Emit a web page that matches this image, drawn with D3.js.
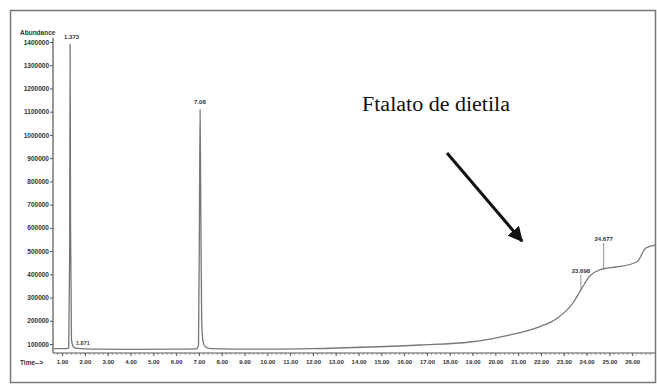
<!DOCTYPE html>
<html>
<head>
<meta charset="utf-8">
<script src="https://cdn.jsdelivr.net/npm/d3@7"></script>
<style>
  html, body { margin: 0; padding: 0; background: #fff; }
  svg { display: block; }
</style>
</head>
<body>
<svg id="chart" width="657" height="385"></svg>
<script>
// Total ion chromatogram: retention time (min) vs abundance
const times = [0.62, 1.20, 1.29, 1.33, 1.35, 1.37, 1.41, 1.48, 1.60, 1.85, 2.5, 4.0, 6.0,
  6.90, 6.98, 7.02, 7.05, 7.08, 7.12, 7.18, 7.28, 7.5, 8.5, 10.0, 12.0, 14.5, 16.7, 18.9,
  20.6, 21.9, 22.7, 23.4, 23.7, 23.8, 24.1, 24.55, 24.8, 25.3, 26.2, 26.6, 27.0];
const abundance = [80000, 80000, 84000, 500000, 1390000, 600000, 120000, 90000, 82000, 80000,
  78000, 77000, 78000, 79000, 95000, 600000, 1108000, 700000, 200000, 110000, 88000, 80000,
  78000, 78000, 80000, 87000, 95700, 108600, 138700, 173000, 210000, 276500, 325000, 341000,
  388000, 418600, 425000, 431500, 453000, 513000, 526000];

const yTicks = [100000, 200000, 300000, 400000, 500000, 600000, 700000, 800000, 900000,
  1000000, 1100000, 1200000, 1300000, 1400000];
const xTicks = d3.range(1, 27);   // 1.00 … 26.00 min

// Labelled peaks: retention time, abundance at the peak and its annotation
const peakTimes = [1.35, 7.05, 23.75, 24.75];
const peakValues = [1390000, 1108000, 330000, 423000];
const peakLabels = ["1.373", "7.08", "23.698", "24.677"];
const peakLift = [4, 4, 16, 26];

const svg = d3.select("#chart");
const sans = "Liberation Sans, Arial, sans-serif";

// outer frame
svg.append("rect").attr("x", 10.5).attr("y", 10.5).attr("width", 645).attr("height", 372)
  .attr("fill", "none").attr("stroke", "#777").attr("stroke-width", 1.5);

const x = d3.scaleLinear().domain([0.6, 27.0]).range([53, 655]);
const y = d3.scaleLinear().domain([100000, 1400000]).range([344, 42]);
const yBottom = 353;

// y axis
const yAxis = d3.axisLeft(y).tickValues(yTicks).tickSize(3).tickFormat(d3.format("d"));
const gy = svg.append("g").attr("transform", "translate(53,0)").call(yAxis);
gy.select(".domain").remove();
gy.append("line").attr("x1", 0).attr("x2", 0).attr("y1", 38).attr("y2", yBottom)
  .attr("stroke", "#555").attr("stroke-width", 1.2);
gy.selectAll(".tick line").attr("stroke", "#555");
gy.selectAll(".tick text").attr("fill", "#333").attr("font-size", 6.5)
  .attr("font-family", sans).attr("font-weight", "bold").attr("x", -4);

// x axis: major ticks every minute, minor ticks every 0.2 min
const xAxis = d3.axisBottom(x).tickValues(xTicks).tickSize(3).tickFormat(d3.format(".2f"));
const gx = svg.append("g").attr("transform", `translate(0,${yBottom})`).call(xAxis);
gx.select(".domain").remove();
gx.append("line").attr("x1", 53).attr("x2", 655).attr("y1", 0).attr("y2", 0)
  .attr("stroke", "#555").attr("stroke-width", 1.2);
const minor = d3.range(0.8, 27.0, 0.2);
gx.selectAll(".minor").data(minor).join("line").attr("class", "minor")
  .attr("x1", d => x(d)).attr("x2", d => x(d)).attr("y1", 0).attr("y2", 2)
  .attr("stroke", "#777").attr("stroke-width", 0.7);
gx.selectAll(".tick line").attr("stroke", "#555");
gx.selectAll(".tick text").attr("fill", "#333").attr("font-size", 6)
  .attr("font-family", sans).attr("font-weight", "bold").attr("dy", "0.9em");

svg.append("text").attr("x", 20).attr("y", 35).text("Abundance")
  .attr("font-size", 6.5).attr("font-weight", "bold").attr("fill", "#333")
  .attr("font-family", sans);
svg.append("text").attr("x", 20).attr("y", 365).text("Time-->")
  .attr("font-size", 6.5).attr("font-weight", "bold").attr("fill", "#333")
  .attr("font-family", sans);

// chromatogram trace
const line = d3.line().x(d => x(d[0])).y(d => y(d[1])).curve(d3.curveMonotoneX);
svg.append("path").datum(times.map((t, i) => [t, abundance[i]]))
  .attr("d", line).attr("fill", "none").attr("stroke", "#777").attr("stroke-width", 1.3);

// peak annotations
const pk = svg.append("g");
peakTimes.forEach((t, i) => {
  const px = x(t), py = y(peakValues[i]);
  if (peakLift[i] > 6) {
    pk.append("line").attr("x1", px).attr("x2", px).attr("y1", py).attr("y2", py - peakLift[i])
      .attr("stroke", "#777").attr("stroke-width", 0.8);
  }
  pk.append("text").attr("x", px).attr("y", py - peakLift[i] - 1.5)
    .attr("text-anchor", i < 2 ? "start" : "middle")
    .attr("dx", i < 2 ? -6 : 0)
    .text(peakLabels[i]).attr("font-size", 6).attr("font-weight", "bold").attr("fill", "#333")
    .attr("font-family", sans);
});
svg.append("text").attr("x", 76).attr("y", 345).text("1.871")
  .attr("font-size", 5.5).attr("font-weight", "bold").attr("fill", "#444")
  .attr("font-family", sans);

// compound call-out
svg.append("text").attr("x", 362).attr("y", 111).text("Ftalato de dietila")
  .attr("font-size", 20.5).attr("fill", "#111")
  .attr("textLength", 148).attr("lengthAdjust", "spacingAndGlyphs")
  .attr("font-family", "Liberation Serif, Times New Roman, serif");

svg.append("defs").append("marker").attr("id", "head").attr("viewBox", "0 0 10 10")
  .attr("refX", 9).attr("refY", 5).attr("markerWidth", 5).attr("markerHeight", 5)
  .attr("orient", "auto").attr("markerUnits", "strokeWidth")
  .append("path").attr("d", "M0,0 L10,5 L0,10 Z").attr("fill", "#111");
svg.append("line").attr("x1", 447).attr("y1", 153).attr("x2", 522).attr("y2", 241)
  .attr("stroke", "#111").attr("stroke-width", 3).attr("marker-end", "url(#head)");
</script>
</body>
</html>
